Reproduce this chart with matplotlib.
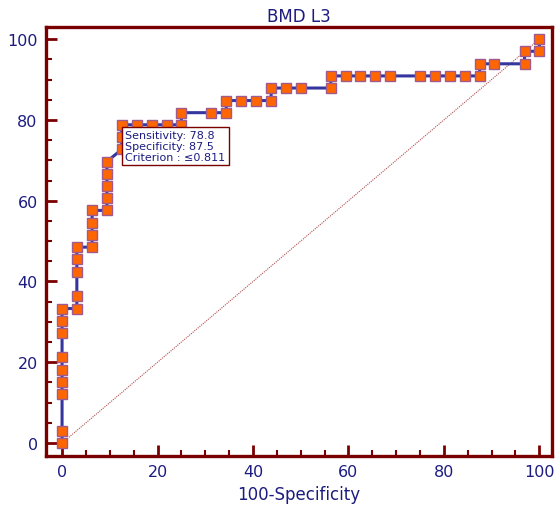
import matplotlib
matplotlib.use("Agg")
import matplotlib.pyplot as plt
from matplotlib.ticker import MultipleLocator

plt.rcParams['font.family'] = ['DejaVu Sans']

# ROC points (100-specificity, sensitivity)
fpr = [0, 0, 0, 0, 0, 0, 0, 0, 0,
       3.1, 3.1, 3.1, 3.1, 3.1,
       6.3, 6.3, 6.3, 6.3,
       9.4, 9.4, 9.4, 9.4, 9.4,
       12.5, 12.5, 12.5,
       15.6, 18.8, 21.9, 25.0,
       25.0, 31.3, 34.4,
       34.4, 37.5, 40.6, 43.8,
       43.8, 46.9, 50.0, 56.3,
       56.3, 59.4, 62.5, 65.6, 68.8, 75.0, 78.1, 81.3, 84.4, 87.5,
       87.5, 90.6, 96.9,
       96.9, 100, 100]
tpr = [0, 3.0, 12.1, 15.2, 18.2, 21.2, 27.3, 30.3, 33.3,
       33.3, 36.4, 42.4, 45.5, 48.5,
       48.5, 51.5, 54.5, 57.6,
       57.6, 60.6, 63.6, 66.7, 69.7,
       72.7, 75.8, 78.8,
       78.8, 78.8, 78.8, 78.8,
       81.8, 81.8, 81.8,
       84.8, 84.8, 84.8, 84.8,
       87.9, 87.9, 87.9, 87.9,
       90.9, 90.9, 90.9, 90.9, 90.9, 90.9, 90.9, 90.9, 90.9, 90.9,
       93.9, 93.9, 93.9,
       97.0, 97.0, 100]

title = "BMD L3"
xlabel = "100-Specificity"
box_text = "Sensitivity: 78.8\nSpecificity: 87.5\nCriterion : \u22640.811"

spine_col = '#7a0000'
text_col = '#1c1c80'

fig = plt.figure(figsize=(5.55, 5.10), dpi=100)
ax = fig.add_axes([0.083, 0.104, 0.912, 0.841])

ax.plot([0, 100], [0, 100], linestyle=(0, (1, 1)), color='#b05050', lw=0.8, zorder=1)
ax.plot(fpr, tpr, color='#3535a0', lw=2.2, zorder=2)
ax.plot(fpr, tpr, linestyle='none', marker='s', markersize=7.5,
        markerfacecolor='#ff6600', markeredgecolor='#a05a8c', markeredgewidth=1, zorder=3)

ax.text(13.2, 77.4, box_text, fontsize=8, color=text_col, va='top', ha='left',
        linespacing=1.1, zorder=5,
        bbox=dict(boxstyle='square,pad=0.3', facecolor='white', edgecolor=spine_col, lw=1))

ax.set_xlim(-3.35, 102.7)
ax.set_ylim(-3.2, 103)

ax.xaxis.set_major_locator(MultipleLocator(20))
ax.xaxis.set_minor_locator(MultipleLocator(5))
ax.yaxis.set_major_locator(MultipleLocator(20))
ax.yaxis.set_minor_locator(MultipleLocator(5))
ax.tick_params(which='major', direction='in', length=8, width=2, color=spine_col,
               labelcolor=text_col, labelsize=11.5, pad=6)
ax.tick_params(which='minor', direction='in', length=4.5, width=1.5, color=spine_col)

for s in ax.spines.values():
    s.set_color(spine_col)
    s.set_linewidth(2.4)

ax.set_title(title, fontsize=12, color=text_col, pad=4)
ax.set_xlabel(xlabel, fontsize=12, color=text_col, labelpad=4)

fig.savefig("out.png", dpi=100)
